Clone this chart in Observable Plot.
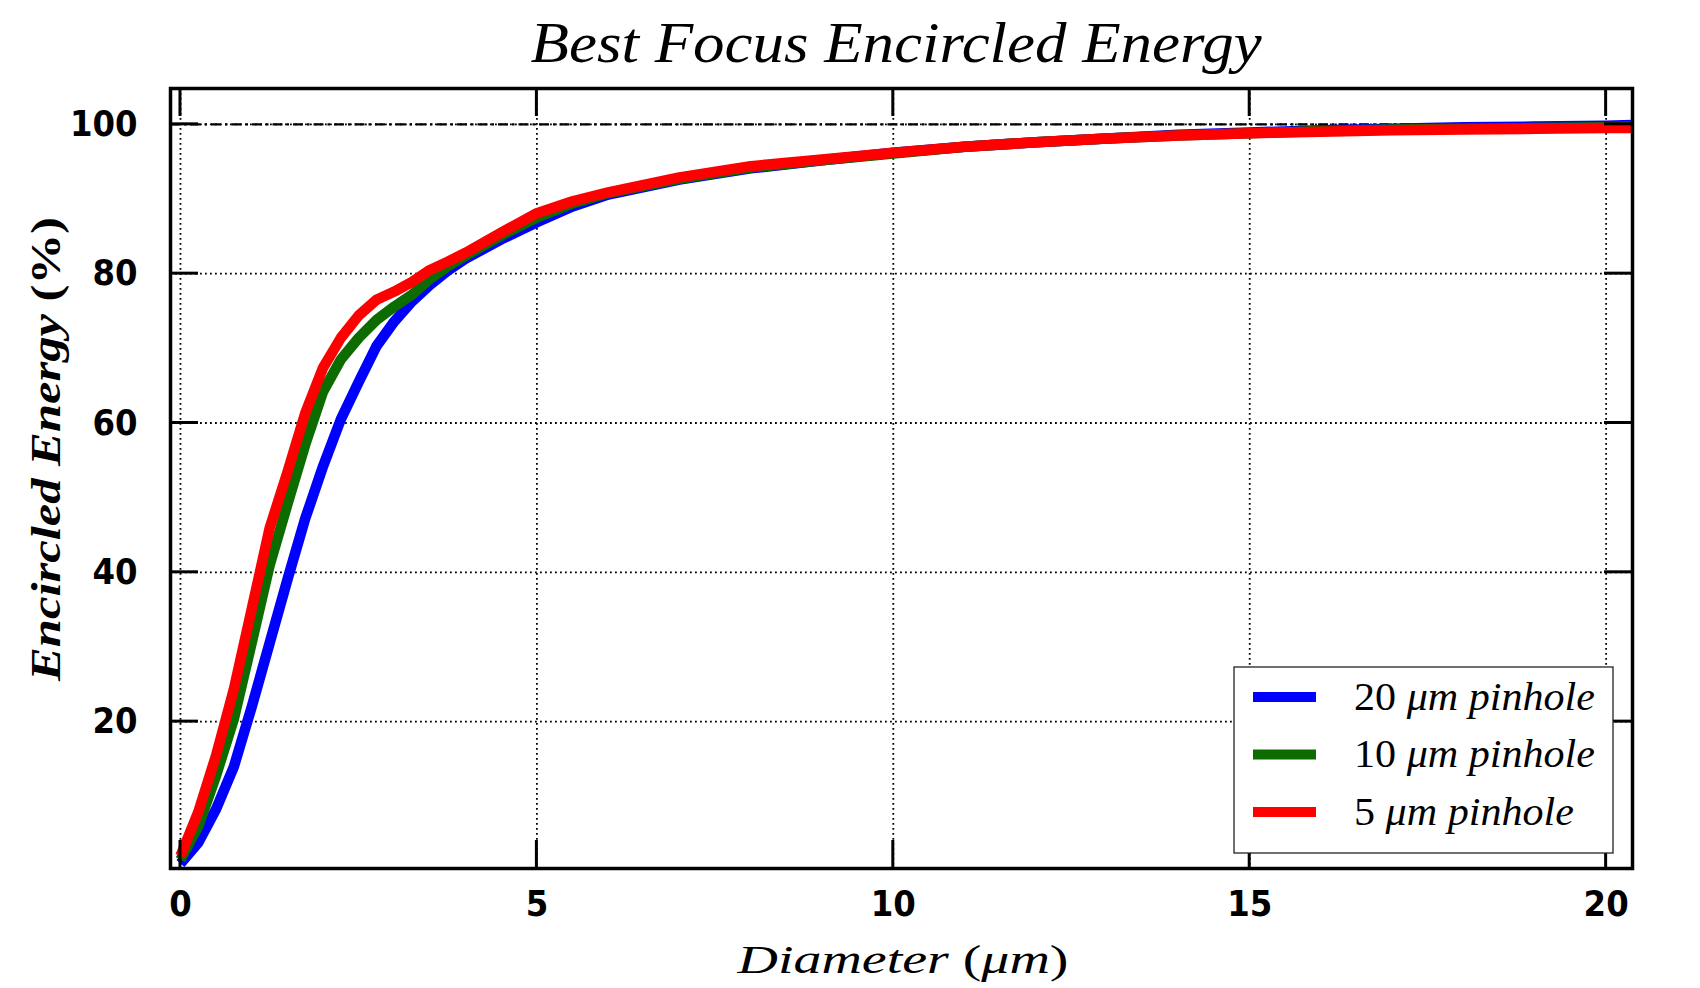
<!DOCTYPE html>
<html><head><meta charset="utf-8">
<script src="https://cdn.jsdelivr.net/npm/d3@7"></script>
<script src="https://cdn.jsdelivr.net/npm/@observablehq/plot@0.6"></script>
<style>
body{margin:0;background:#fff;width:1700px;height:988px;overflow:hidden}
#title{height:60px;box-sizing:border-box;padding-top:10px;padding-left:92px;text-align:center;line-height:57px;white-space:nowrap}
#title span{display:inline-block;font:italic 57px "Liberation Serif",serif;transform-origin:50% 50%}
#chart svg{display:block}
</style></head><body>
<div id="title"><span id="ttl">Best Focus Encircled Energy</span></div>
<div id="chart"></div>
<script>
// Diameter (µm) sample positions
const diameter = [0, 0.25, 0.5, 0.75, 1.0, 1.25, 1.5, 1.75, 2.0, 2.25, 2.5, 2.75, 3.0, 3.25, 3.5, 3.75, 4.0, 4.5, 5.0, 5.5, 6.0, 7.0, 8.0, 9.0, 10, 11, 12, 13, 14, 15, 16, 17, 18, 19, 20, 20.37];
// Encircled energy (%) per pinhole
const ee20 = [1.0, 3.8, 8.3, 14.0, 22.0, 30.5, 39.0, 47.2, 54.2, 60.5, 65.5, 70.3, 73.6, 76.3, 78.5, 80.4, 82.0, 84.6, 86.9, 89.0, 90.6, 92.6, 94.1, 95.2, 96.2, 97.0, 97.6, 98.1, 98.6, 98.9, 99.2, 99.4, 99.6, 99.7, 99.8, 99.9];
const ee10 = [1.5, 6.0, 12.8, 20.4, 30.6, 40.9, 49.1, 57.1, 64.2, 68.5, 71.4, 73.8, 75.6, 77.2, 79.3, 81.0, 82.4, 85.1, 87.5, 89.4, 90.8, 92.7, 94.2, 95.2, 96.1, 97.0, 97.6, 98.1, 98.5, 98.8, 99.1, 99.3, 99.4, 99.5, 99.6, 99.7];
const ee5  = [2.0, 7.9, 15.5, 24.4, 35.1, 45.9, 53.4, 61.3, 67.4, 71.4, 74.4, 76.5, 77.6, 78.9, 80.5, 81.6, 82.8, 85.5, 88.1, 89.7, 90.9, 92.9, 94.4, 95.3, 96.2, 97.0, 97.6, 98.1, 98.5, 98.8, 99.0, 99.2, 99.3, 99.4, 99.5, 99.5];
const seriesNames = ["20 μm pinhole", "10 μm pinhole", "5 μm pinhole"];
const seriesNums = ["20", "10", "5"];
const seriesColors = ["#0000ff", "#0c6c00", "#ff0000"];
const xTicks = [0, 5, 10, 15, 20];
const yTicks = [20, 40, 60, 80, 100];
const xDomain = [-0.14, 20.37];
const yDomain = [0.33, 104.8];

(function () {
// title: stretch to the reference width
const ttl = document.getElementById("ttl");
const tw = ttl.getBoundingClientRect().width;
ttl.style.transform = `scaleX(${731 / tw})`;

const rows = [];
[ee20, ee10, ee5].forEach((vals, i) =>
  vals.forEach((v, j) => rows.push({series: seriesNames[i], x: diameter[j], y: v})));

const tickFont = "'DejaVu Sans Condensed','DejaVu Sans',sans-serif";
const chart = Plot.plot({
  width: 1700, height: 928,
  marginTop: 28, marginBottom: 120, marginLeft: 170, marginRight: 68,
  x: {domain: xDomain},
  y: {domain: yDomain},
  color: {domain: seriesNames, range: seriesColors},
  style: {fontFamily: tickFont, background: "white", overflow: "visible"},
  marks: [
    Plot.gridX(xTicks, {stroke: "black", strokeOpacity: 1, strokeWidth: 1.8, strokeDasharray: "1.8,3.2"}),
    Plot.gridY(yTicks, {stroke: "black", strokeOpacity: 1, strokeWidth: 1.8, strokeDasharray: "1.8,3.2"}),
    Plot.ruleY([100], {stroke: "black", strokeWidth: 2.4, strokeDasharray: "10,4,2.5,4"}),
    Plot.line(rows, {x: "x", y: "y", z: "series", stroke: "series", strokeWidth: 10.5, strokeLinejoin: "round", strokeLinecap: "butt"}),
    Plot.frame({stroke: "black", strokeWidth: 3.5}),
    Plot.axisX(xTicks, {tickSize: 0, tickPadding: 22, fontSize: 36, fontWeight: "bold", label: null}),
    Plot.axisY(yTicks, {tickSize: 0, tickPadding: 33, fontSize: 36, fontWeight: "bold", label: null})
  ]
});
document.getElementById("chart").appendChild(chart);

const svg = d3.select(chart);
const sx = chart.scale("x"), sy = chart.scale("y");
const [pLeft, pRight] = sx.range;
const [pBottom, pTop] = sy.range;
const tl = 28;
const tg = svg.append("g").attr("stroke", "black").attr("stroke-width", 3);
xTicks.forEach(t => {
  const px = sx.apply(t);
  tg.append("line").attr("x1", px).attr("x2", px).attr("y1", pBottom).attr("y2", pBottom - tl);
  tg.append("line").attr("x1", px).attr("x2", px).attr("y1", pTop).attr("y2", pTop + tl);
});
yTicks.forEach(t => {
  const py = sy.apply(t);
  tg.append("line").attr("y1", py).attr("y2", py).attr("x1", pLeft).attr("x2", pLeft + tl);
  tg.append("line").attr("y1", py).attr("y2", py).attr("x1", pRight).attr("x2", pRight - tl);
});

const serif = "'Liberation Serif','Times New Roman',serif";

// y-axis label (stretched along its length)
const ylg = svg.append("g");
const yl = ylg.append("text")
  .attr("text-anchor", "middle")
  .attr("font-family", serif)
  .attr("font-weight", "bold").attr("font-size", 42).attr("fill", "black");
yl.append("tspan").attr("font-style", "italic").text("Encircled Energy");
yl.append("tspan").text(" (%)");
const ylen = yl.node().getComputedTextLength();
ylg.attr("transform", `translate(60,389) rotate(-90) scale(${464 / ylen},1)`);

// x-axis label
const xlg = svg.append("g");
const xl = xlg.append("text")
  .attr("text-anchor", "middle")
  .attr("font-family", serif)
  .attr("font-size", 40).attr("fill", "black");
xl.append("tspan").attr("font-style", "italic").text("Diameter");
xl.append("tspan").text(" (");
xl.append("tspan").attr("font-style", "italic").text("μm");
xl.append("tspan").text(")");
const xlen = xl.node().getComputedTextLength();
xlg.attr("transform", `translate(903,${pBottom + 105}) scale(${331 / xlen},1)`);

// legend
const lg = svg.append("g").attr("transform", `translate(${pRight - 398},${pBottom - 201})`);
lg.append("rect").attr("x", 0).attr("y", 0).attr("width", 379).attr("height", 186)
  .attr("fill", "white").attr("stroke", "#222").attr("stroke-width", 1.3);
let k = 1;
seriesNames.forEach((name, i) => {
  const ry = 30 + i * 57.5;
  lg.append("line").attr("x1", 19).attr("x2", 82).attr("y1", ry).attr("y2", ry)
    .attr("stroke", seriesColors[i]).attr("stroke-width", 10);
  const tgp = lg.append("g").attr("transform", `translate(120,${ry + 12.5})`);
  const t = tgp.append("text").attr("text-anchor", "start")
    .attr("font-family", serif).attr("font-size", 39).attr("fill", "black");
  t.append("tspan").text(seriesNums[i] + " ");
  t.append("tspan").attr("font-style", "italic").text("μm pinhole");
  if (i === 0) k = 241 / t.node().getComputedTextLength();
  tgp.attr("transform", `translate(120,${ry + 12.5}) scale(${k},1)`);
});
})();
</script>
</body></html>
